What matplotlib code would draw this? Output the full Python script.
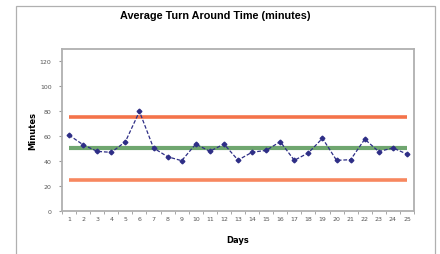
import numpy as np
import matplotlib
matplotlib.use("Agg")
import matplotlib.pyplot as plt
from matplotlib.patches import Rectangle

days = list(range(1, 26))
minutes = [60.8, 53.0, 47.7, 46.9, 55.4, 79.8, 50.4, 43.4, 40.2, 53.6,
           47.7, 53.6, 40.7, 47.0, 48.5, 55.5, 40.5, 46.5, 58.2, 40.5,
           41.0, 57.5, 47.5, 50.5, 45.5]
ucl = 75.5
center = 50.2
lcl = 24.8
y_ticks = [0, 20, 40, 60, 80, 100, 120]

W, H = 440, 255
fig = plt.figure(figsize=(W / 100, H / 100), dpi=100)

# outer chart frame (bottom edge falls outside the picture)
frame = Rectangle((16 / W, -0.05), (435 - 16) / W, 1.05 - 7 / H,
                  transform=fig.transFigure, fill=False,
                  edgecolor="#b0b0b0", lw=0.9)
fig.add_artist(frame)

left, right, top, bottom = 62, 414, 50, 211.7
ax = fig.add_axes([left / W, 1 - bottom / H, (right - left) / W,
                   (bottom - top) / H])

n = len(days)
ax.plot(days, [ucl] * n, color="#f4734a", lw=2.6, solid_capstyle="butt", zorder=2)
ax.plot(days, [lcl] * n, color="#f7875f", lw=2.6, solid_capstyle="butt", zorder=2)
ax.plot(days, [center] * n, color="#6fa66f", lw=3.0, solid_capstyle="butt", zorder=2)
ax.plot(days, minutes, color="#2e2e86", lw=0.9, ls=(0, (3, 1.5)),
        marker="D", ms=2.4, zorder=3)

ax.set_xlim(0.5, n + 0.5)
ax.set_ylim(0, 130)
ax.set_yticks(y_ticks)
ax.set_xticks(days)
ax.set_xticks(np.arange(0.5, n + 1, 1), minor=True)
ax.tick_params(axis="x", which="major", length=0, labelsize=4.5,
               colors="#555555", pad=4)
ax.tick_params(axis="x", which="minor", length=2.5, color="#999999",
               direction="out")
ax.tick_params(axis="y", length=2.5, labelsize=4.5, colors="#555555",
               pad=5, color="#999999")
for side in ["left", "bottom", "top", "right"]:
    ax.spines[side].set_color("#b0b0b0")
    ax.spines[side].set_linewidth(1.3)

ax.set_xlabel("Days", fontsize=6, fontweight="bold", labelpad=10)
ax.set_ylabel("Minutes", fontsize=6, fontweight="bold", labelpad=2)
fig.text(215 / W, 1 - 16 / H, "Average Turn Around Time (minutes)",
         ha="center", va="center", fontsize=7.8, fontweight="bold",
         family="Liberation Sans")

fig.savefig("out.png", dpi=100)
